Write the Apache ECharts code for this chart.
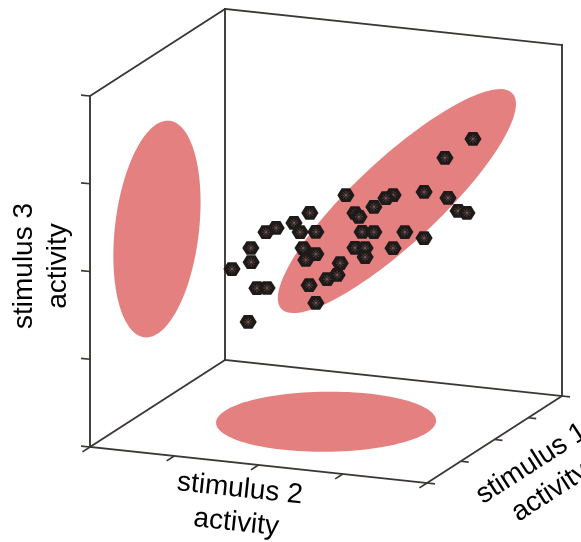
<!DOCTYPE html>
<html><head><meta charset="utf-8">
<script src="https://cdn.jsdelivr.net/npm/echarts@6/dist/echarts.min.js"></script>
<style>html,body{margin:0;padding:0;background:#fff}#c{width:581px;height:542px}</style>
</head><body><div id="c"></div>
<script>
// ---- data (normalised activity, 0..1) ----
const stim2 = [0.888,0.833,0.711,0.870,0.860,0.854,0.611,0.698,0.602,0.447,0.578,0.638,0.535,0.618,0.758,0.847,0.534,0.616,0.747,0.520,0.522,0.565,0.459,0.462,0.530,0.396,0.324,0.402,0.405,0.339,0.506,0.293,0.396,0.538,0.336,0.322,0.209,0.323,0.265,0.273];
const stim1 = [0.62,0.55,0.70,0.48,0.58,0.66,0.72,0.45,0.60,0.78,0.52,0.40,0.68,0.56,0.44,0.36,0.63,0.50,0.38,0.74,0.55,0.42,0.61,0.47,0.35,0.64,0.57,0.30,0.50,0.71,0.41,0.46,0.59,0.33,0.76,0.39,0.53,0.43,0.65,0.49];
const stim3 = [0.815,0.773,0.626,0.680,0.617,0.591,0.602,0.669,0.597,0.570,0.597,0.622,0.499,0.537,0.581,0.593,0.466,0.506,0.549,0.411,0.441,0.444,0.374,0.392,0.378,0.549,0.516,0.579,0.556,0.471,0.563,0.483,0.461,0.523,0.379,0.463,0.397,0.379,0.319,0.263];
const tickValues = [0, 0.25, 0.5, 0.75, 1];
const axisRange = [0, 1];
const axisNames = ['stimulus 1\nactivity', 'stimulus 2\nactivity', 'stimulus 3\nactivity'];
// covariance ellipses projected on the three walls: centre + two conjugate semi-axes, in [s2, s1, s3]
const leftWallEllipse  = {c:[0, 0.496, 0.498], a:[0, 0.080, 0.289], b:[0, 0.313, -0.078]};
const floorEllipse     = {c:[0.501, 0.498, 0], a:[0.276, 0.126, 0], b:[0.119, -0.296, 0]};
const backWallEllipse  = {c:[0.510, 1, 0.505], a:[0.343, 0, 0.342], b:[0.085, 0, -0.079]};
const ellipses = [leftWallEllipse, floorEllipse, backWallEllipse];

// ---- view projection (layout) ----
const ORIGIN = [90, 447], E2 = [337, 36], E1 = [135, -87], E3 = [0, -351];
function nrm(v){ return (v - axisRange[0]) / (axisRange[1] - axisRange[0]); }
function project(s2, s1, s3){
  const a = nrm(s2), b = nrm(s1), c = nrm(s3);
  return [ORIGIN[0] + a*E2[0] + b*E1[0] + c*E3[0], ORIGIN[1] + a*E2[1] + b*E1[1] + c*E3[1]];
}
function unit(v, s){ const L = Math.hypot(v[0], v[1]); return [s*v[0]/L, s*v[1]/L]; }

const lo = axisRange[0], hi = axisRange[1];
const edges = [
  [[lo,lo,lo],[lo,lo,hi]], [[lo,lo,hi],[lo,hi,hi]], [[lo,hi,hi],[lo,hi,lo]], [[lo,hi,lo],[lo,lo,lo]],
  [[lo,hi,hi],[hi,hi,hi]], [[hi,hi,hi],[hi,hi,lo]], [[lo,hi,lo],[hi,hi,lo]],
  [[lo,lo,lo],[hi,lo,lo]], [[hi,lo,lo],[hi,hi,lo]]
];
const ticks = [];
tickValues.forEach(t => {
  ticks.push({p:[lo,lo,t], d:unit(E2,-9)});   // stimulus 3 axis
  ticks.push({p:[t,lo,lo], d:unit(E1,-9)});   // stimulus 2 axis
  ticks.push({p:[hi,t,lo], d:unit(E2, 8)});   // stimulus 1 axis
});

const LINE = '#3b3735', PINK = '#e58080';
const chart = echarts.init(document.getElementById('c'), null, {renderer:'canvas'});
const fontFam = '"Liberation Sans", Arial, Helvetica, sans-serif';
function label(text, x, y, rot){
  return {type:'text', x:x, y:y, rotation:rot, z:10,
    style:{text:text, font:'28px ' + fontFam, fill:'#000', align:'center', verticalAlign:'middle', lineHeight:34}};
}
chart.setOption({
  animation:false,
  grid:{left:0, right:0, top:0, bottom:0},
  xAxis:{type:'value', min:0, max:581, show:false},
  yAxis:{type:'value', min:0, max:542, inverse:true, show:false},
  series:[
    {type:'custom', z:1, data:ellipses.map((e,i)=>[i,0]),
     renderItem:function(params, api){
       const e = ellipses[params.dataIndex], pts = [];
       for (let k = 0; k < 120; k++){
         const t = 2*Math.PI*k/120, co = Math.cos(t), si = Math.sin(t);
         const q = [0,1,2].map(j => e.c[j] + e.a[j]*co + e.b[j]*si);
         pts.push(api.coord(project(q[0], q[1], q[2])));
       }
       return {type:'polygon', shape:{points:pts}, style:{fill:PINK}};
     }},
    {type:'custom', z:2, data:edges.map((e,i)=>[i,0]),
     renderItem:function(params, api){
       const e = edges[params.dataIndex];
       const p1 = api.coord(project(...e[0])), p2 = api.coord(project(...e[1]));
       return {type:'line', shape:{x1:p1[0], y1:p1[1], x2:p2[0], y2:p2[1]}, style:{stroke:LINE, lineWidth:1.9, lineCap:'square'}};
     }},
    {type:'custom', z:2, data:ticks.map((e,i)=>[i,0]),
     renderItem:function(params, api){
       const tk = ticks[params.dataIndex];
       const p = api.coord(project(...tk.p));
       return {type:'line', shape:{x1:p[0], y1:p[1], x2:p[0]+tk.d[0], y2:p[1]+tk.d[1]}, style:{stroke:LINE, lineWidth:1.7}};
     }},
    {type:'custom', z:3, data:stim2.map((v,i)=>[v, stim1[i], stim3[i]]),
     renderItem:function(params, api){
       const i = params.dataIndex;
       const p = api.coord(project(stim2[i], stim1[i], stim3[i]));
       const r = 8.6, hex = [];
       for (let k = 0; k < 6; k++){ const t = Math.PI*k/3; hex.push([p[0] + r*Math.cos(t), p[1] + 0.92*r*Math.sin(t)]); }
       const children = [{type:'polygon', shape:{points:hex}, style:{fill:'#1d1a19'}}];
       const s = 4.2;
       [[s,0],[0,s],[0.7*s,0.7*s],[0.7*s,-0.7*s]].forEach(d => {
         children.push({type:'line', shape:{x1:p[0]-d[0], y1:p[1]-d[1], x2:p[0]+d[0], y2:p[1]+d[1]}, style:{stroke:'rgba(170,120,120,0.5)', lineWidth:0.8}});
       });
       return {type:'group', children:children};
     }}
  ],
  graphic:[
    label(axisNames[2], 41, 266, Math.PI/2),
    label(axisNames[1], 238, 506, -0.106),
    label(axisNames[0], 541, 478, 0.573)
  ]
});
</script></body></html>
